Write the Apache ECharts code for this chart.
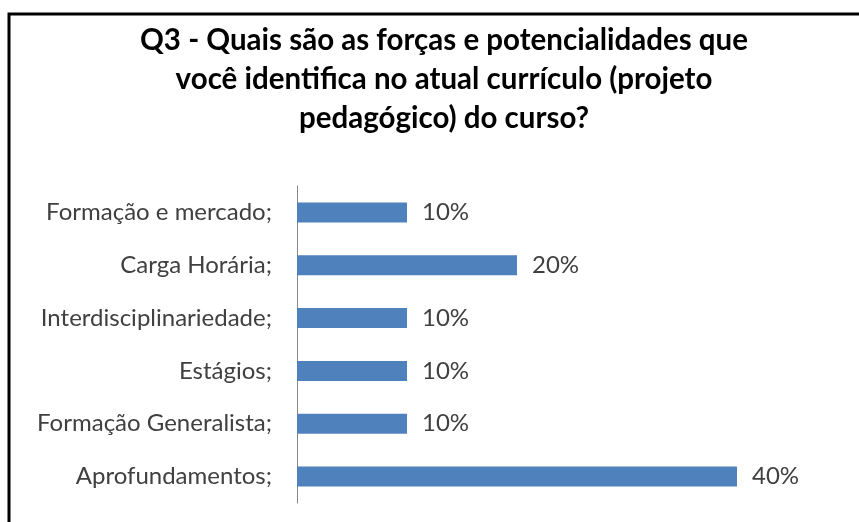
<!DOCTYPE html>
<html>
<head>
<meta charset="utf-8">
<script src="https://cdn.jsdelivr.net/npm/echarts@6/dist/echarts.min.js"></script>
<style>
	html, body { margin: 0; padding: 0; background: #ffffff; }
	#chart { width: 859px; height: 522px; }
</style>
</head>
<body>
<div id="chart"></div>
<script>
var titleText = 'Q3 - Quais são as forças e potencialidades que\nvocê identifica no atual currículo (projeto\npedagógico) do curso?';
// top to bottom
var categories = ['Formação e mercado;', 'Carga Horária;', 'Interdisciplinariedade;', 'Estágios;', 'Formação Generalista;', 'Aprofundamentos;'];
var percents = [10, 20, 10, 10, 10, 40];

var chart = echarts.init(document.getElementById('chart'));

var option = {
	backgroundColor: '#ffffff',
	animation: false,
	textStyle: {
		fontFamily: 'Lato'
	},
	title: {
		text: titleText,
		left: 439,
		top: 16,
		textAlign: 'center',
		textStyle: {
			fontFamily: 'Lato',
			fontSize: 29.5,
			fontWeight: 'bold',
			color: '#000000',
			lineHeight: 39
		}
	},
	graphic: [{
		type: 'rect',
		shape: { x: 9, y: 14, width: 900, height: 600 },
		style: { fill: 'none', stroke: '#000000', lineWidth: 3 },
		silent: true
	}],
	grid: {
		left: 297,
		top: 186,
		bottom: 19,
		right: 12,
		containLabel: false
	},
	xAxis: {
		type: 'value',
		min: 0,
		max: 50,
		show: false
	},
	yAxis: {
		type: 'category',
		inverse: true,
		data: categories,
		axisLine: {
			lineStyle: { color: '#868686', width: 1 }
		},
		axisTick: { show: false },
		axisLabel: {
			margin: 25,
			fontSize: 24,
			color: '#404040',
			fontFamily: 'Lato'
		}
	},
	series: [{
		type: 'bar',
		data: percents,
		barCategoryGap: '62%',
		itemStyle: {
			color: '#4F81BD'
		},
		label: {
			show: true,
			position: 'right',
			distance: 15,
			fontSize: 24,
			color: '#404040',
			fontFamily: 'Lato',
			formatter: '{c}%'
		}
	}]
};

chart.setOption(option);
</script>
</body>
</html>
